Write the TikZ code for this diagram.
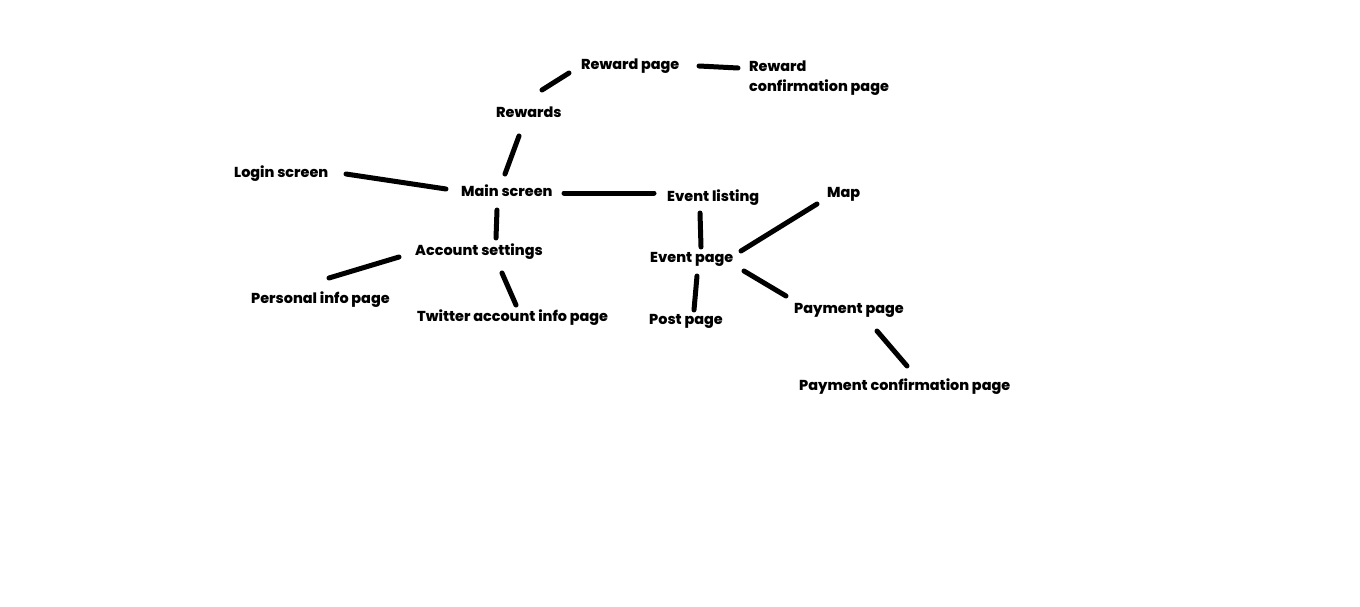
\documentclass[tikz,border=0pt]{standalone}
\usepackage{fontspec}
\setmainfont{Poppins}[BoldFont={Poppins ExtraBold}]
\begin{document}
\begin{tikzpicture}[x=1pt,y=-1pt,
  lbl/.style={anchor=base west,inner sep=0pt,font=\fontsize{14.4}{20}\selectfont\bfseries,align=left},
  link/.style={line width=5pt,line cap=round}]
\useasboundingbox[fill=white] (0,0) rectangle (1360,607);
% page labels
\node[lbl] (rpage) at (581,70) {Reward page};
\node[lbl] (rconf) at (749,92) {Reward\\confirmation page};
\node[lbl] (rew) at (496,118) {Rewards};
\node[lbl] (login) at (234,177) {Login screen};
\node[lbl] (main) at (461,196) {Main screen};
\node[lbl] (elist) at (667,201) {Event listing};
\node[lbl] (map) at (827,197) {Map};
\node[lbl] (acct) at (415,255) {Account settings};
\node[lbl] (epage) at (650,262) {Event page};
\node[lbl] (pers) at (251,303) {Personal info page};
\node[lbl] (twit) at (417,321) {Twitter account info page};
\node[lbl] (post) at (649,324) {Post page};
\node[lbl] (pay) at (794,313) {Payment page};
\node[lbl] (payc) at (799,390) {Payment confirmation page};
% connector ends
\coordinate (rew-ne) at (542,90);   \coordinate (rpage-sw) at (569,73);
\coordinate (rpage-e) at (699,66);  \coordinate (rconf-w) at (738,68);
\coordinate (rew-s) at (519,136);   \coordinate (main-n) at (505,174);
\coordinate (login-e) at (346,174); \coordinate (main-w) at (446,189);
\coordinate (main-e) at (564,193);  \coordinate (elist-w) at (654,193);
\coordinate (main-s) at (497,210);  \coordinate (acct-n) at (496,238);
\coordinate (acct-w) at (399,257);  \coordinate (pers-ne) at (329,278);
\coordinate (acct-s) at (502,273);  \coordinate (twit-n) at (516,305);
\coordinate (elist-s) at (700,213); \coordinate (epage-n) at (701,247);
\coordinate (epage-e) at (741,251); \coordinate (map-sw) at (817,204);
\coordinate (epage-s) at (697,276); \coordinate (post-n) at (694,310);
\coordinate (epage-se) at (744,271);\coordinate (pay-nw) at (786,296);
\coordinate (pay-s) at (877,331);   \coordinate (payc-n) at (907,366);
% connectors
\draw[link] (rew-ne) -- (rpage-sw);
\draw[link] (rpage-e) -- (rconf-w);
\draw[link] (rew-s) -- (main-n);
\draw[link] (login-e) -- (main-w);
\draw[link] (main-e) -- (elist-w);
\draw[link] (main-s) -- (acct-n);
\draw[link] (acct-w) -- (pers-ne);
\draw[link] (acct-s) -- (twit-n);
\draw[link] (elist-s) -- (epage-n);
\draw[link] (epage-e) -- (map-sw);
\draw[link] (epage-s) -- (post-n);
\draw[link] (epage-se) -- (pay-nw);
\draw[link] (pay-s) -- (payc-n);
\end{tikzpicture}
\end{document}
